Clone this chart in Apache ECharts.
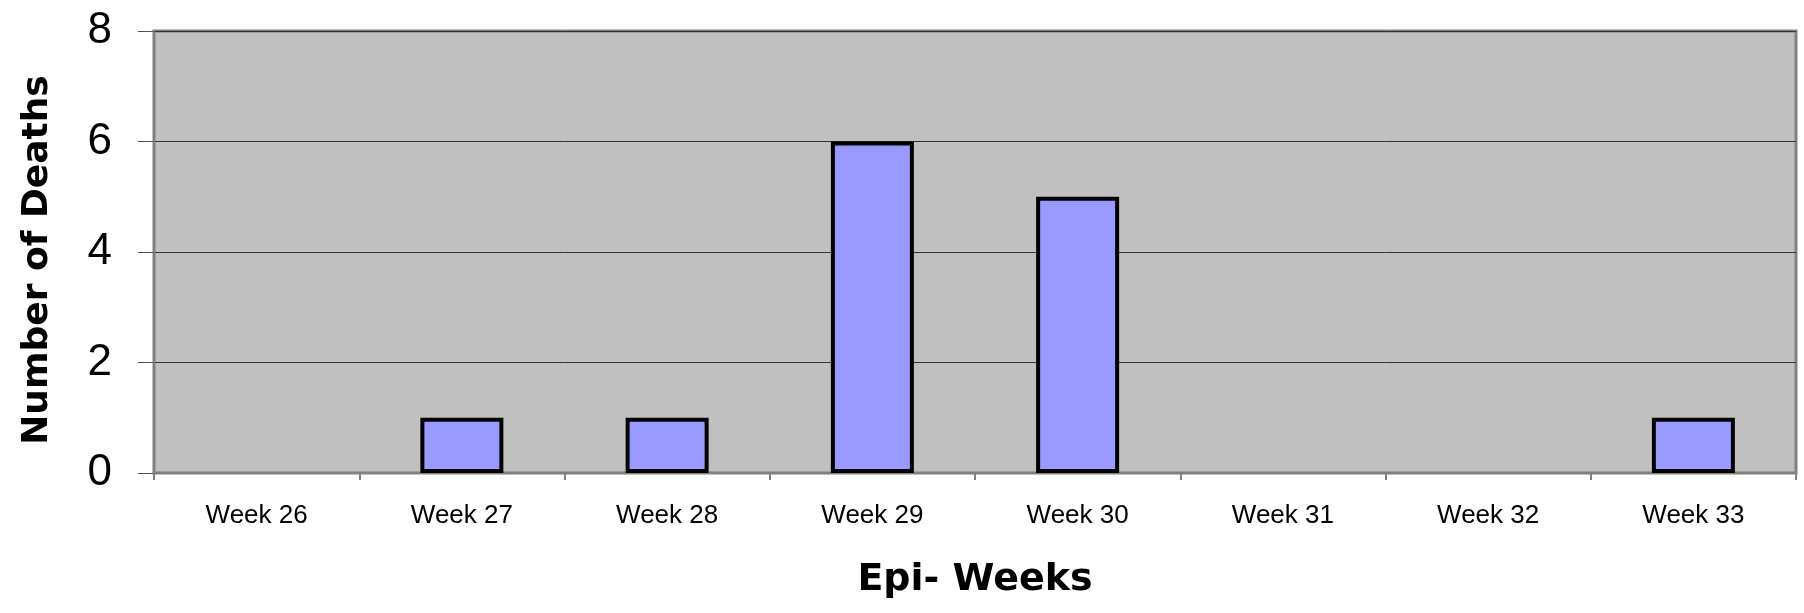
<!DOCTYPE html>
<html>
<head>
<meta charset="utf-8">
<script src="https://cdn.jsdelivr.net/npm/echarts@6/dist/echarts.min.js"></script>
<style>
html,body{margin:0;padding:0;background:#fff;}
#chart{width:1804px;height:613px;}
</style>
</head>
<body>
<div id="chart"></div>
<script>
const categories = ['Week 26','Week 27','Week 28','Week 29','Week 30','Week 31','Week 32','Week 33'];
const deaths = [0, 1, 1, 6, 5, 0, 0, 1];
const yTicks = [0, 2, 4, 6, 8];
const xTitle = 'Epi- Weeks';
const yTitle = 'Number of Deaths';

const chart = echarts.init(document.getElementById('chart'), null, {renderer: 'canvas'});
chart.setOption({
  animation: false,
  backgroundColor: '#ffffff',
  grid: {
    left: 154, right: 8, top: 31, bottom: 140,
    show: true,
    backgroundColor: '#C0C0C0',
    borderColor: '#808080',
    borderWidth: 3
  },
  xAxis: {
    type: 'category',
    data: categories,
    boundaryGap: true,
    name: xTitle,
    nameLocation: 'middle',
    nameGap: 88,
    nameTextStyle: {fontFamily: 'DejaVu Sans', fontWeight: 'bold', fontSize: 38, color: '#000'},
    axisLine: {show: true, lineStyle: {color: '#808080', width: 2}},
    axisTick: {show: true, length: 7, lineStyle: {color: '#808080', width: 2}},
    axisLabel: {margin: 30, fontFamily: 'Liberation Sans, Arial', fontSize: 26, color: '#000'},
    splitLine: {show: false}
  },
  yAxis: {
    type: 'value',
    min: yTicks[0],
    max: yTicks[yTicks.length - 1],
    interval: 2,
    name: yTitle,
    nameLocation: 'middle',
    nameRotate: 90,
    nameGap: 98,
    nameTextStyle: {fontFamily: 'DejaVu Sans', fontWeight: 'bold', fontSize: 36, color: '#000', padding: [0, 16, 0, 0]},
    axisLine: {show: true, lineStyle: {color: '#808080', width: 2}},
    axisTick: {show: true, length: 16, lineStyle: {color: '#555555', width: 1}},
    axisLabel: {margin: 42, fontFamily: 'Liberation Sans, Arial', fontSize: 44, color: '#000'},
    splitLine: {show: true, lineStyle: {color: '#333333', width: 1}}
  },
  series: [{
    type: 'bar',
    barWidth: 83,
    data: deaths.map(v => ({value: v, itemStyle: v === 0 ? {borderWidth: 0} : undefined})),
    itemStyle: {color: '#9999FF', borderColor: '#000000', borderWidth: 4}
  }]
});
</script>
</body>
</html>
